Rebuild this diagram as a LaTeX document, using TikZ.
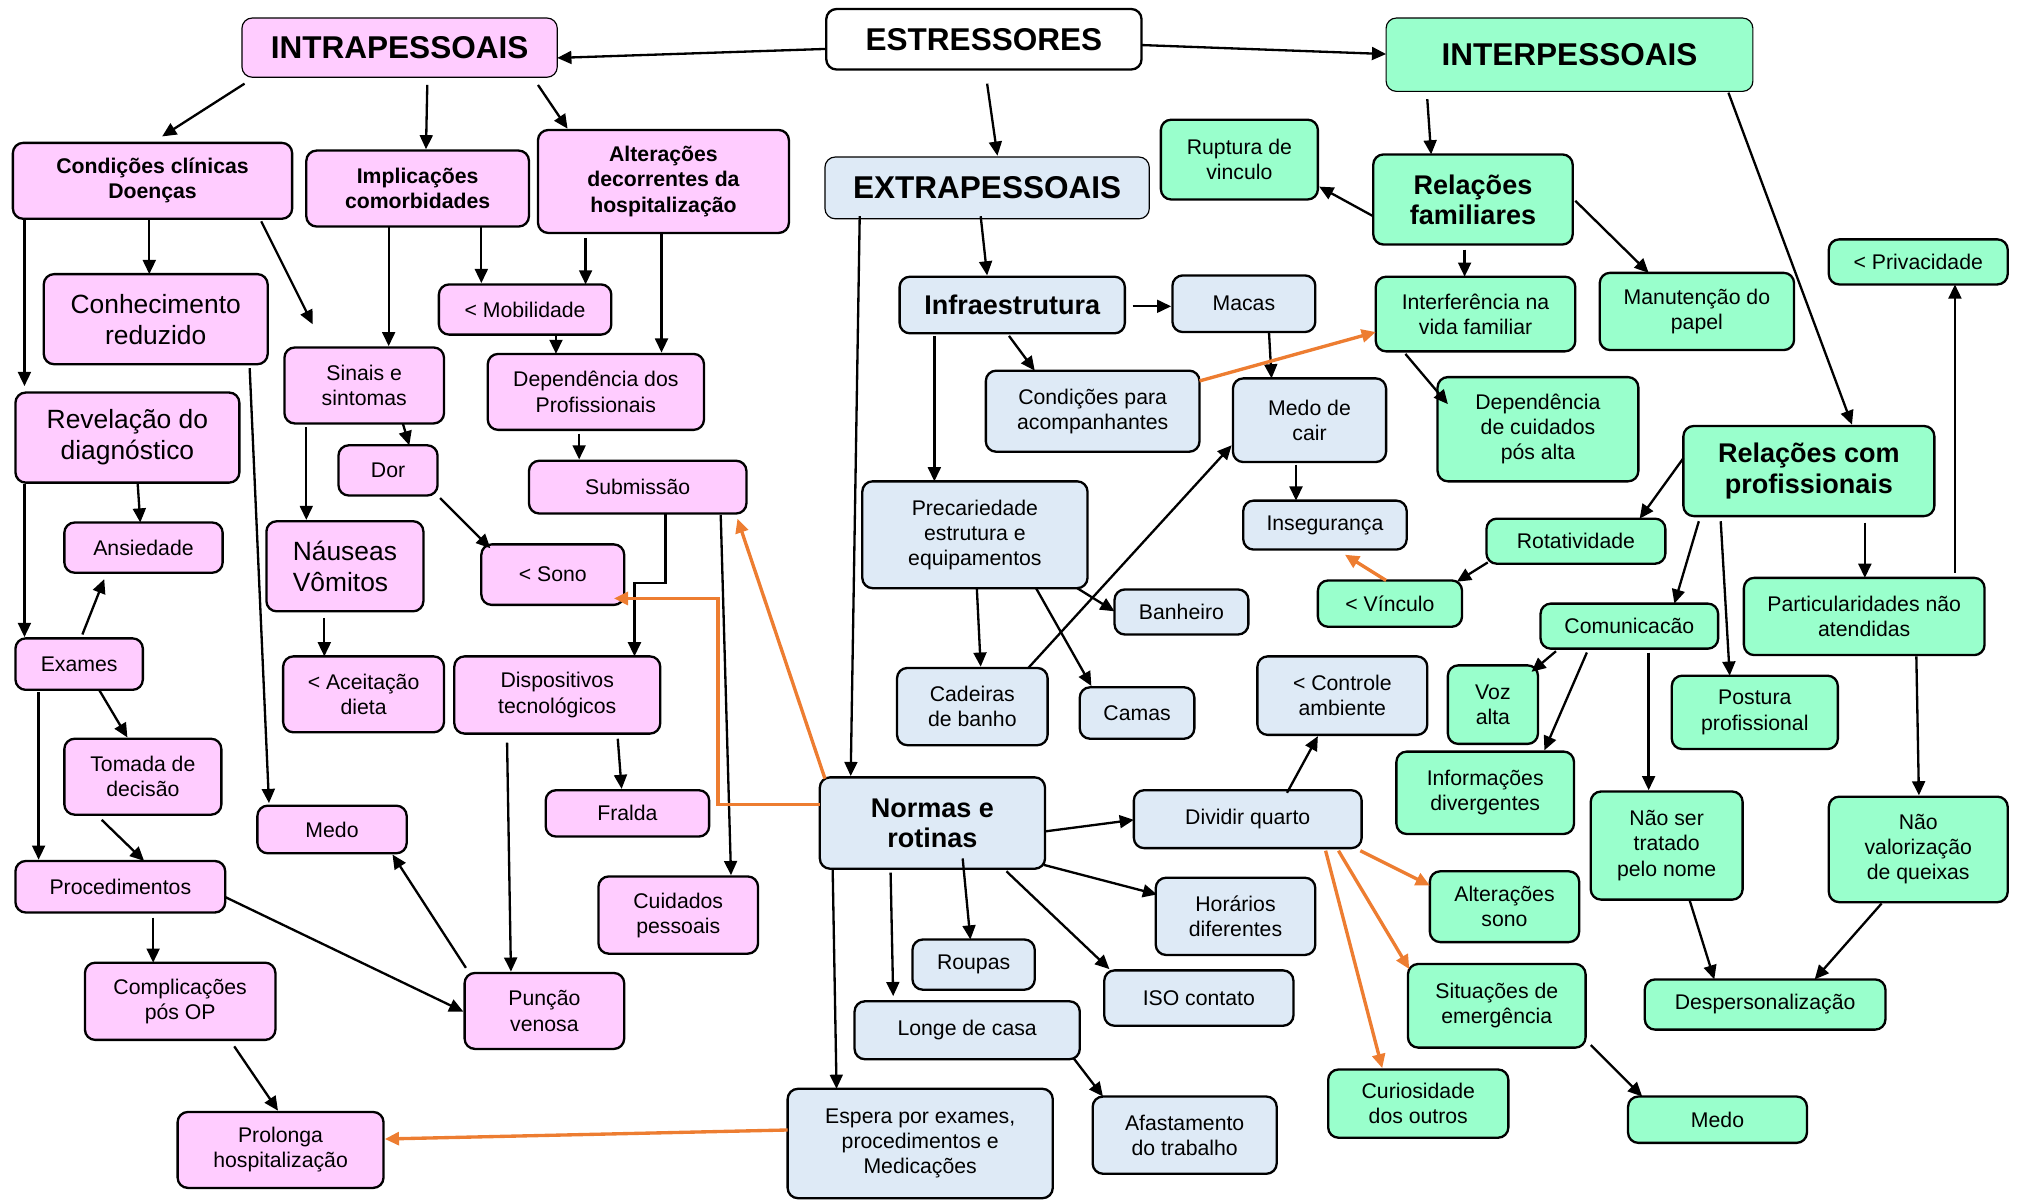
\documentclass[tikz,border=0pt]{standalone}
\usepackage{fontspec}
\setmainfont{Liberation Sans}
\usetikzlibrary{arrows.meta}

\definecolor{pinkfill}{RGB}{255,204,255}
\definecolor{greenfill}{RGB}{153,255,204}
\definecolor{bluefill}{RGB}{222,234,246}
\definecolor{arroworange}{RGB}{237,125,49}

\tikzset{
  box/.style={draw=black, line width=1.8pt, rounded corners=8pt, align=center,
    inner sep=0pt, outer sep=0pt, font=\fontsize{16.5}{19.5}\selectfont},
  pinkbox/.style={box, fill=pinkfill},
  greenbox/.style={box, fill=greenfill},
  bluebox/.style={box, fill=bluefill},
  whitebox/.style={box, fill=white},
  titlefont/.style={font=\bfseries\fontsize{24.5}{28}\selectfont},
  thinframe/.style={line width=0.9pt},
  large/.style={font=\fontsize{20.5}{24}\selectfont},
  heading/.style={font=\bfseries\fontsize{21}{23.5}\selectfont},
  subheading/.style={font=\bfseries\fontsize{16.5}{19.5}\selectfont},
  link/.style={draw=black, line width=1.8pt, -{Triangle[length=11pt,width=10pt]}},
  olink/.style={draw=arroworange, line width=2.6pt, -{Triangle[length=11pt,width=10pt]}},
}

% box from its corners (x1,y1)-(x2,y2); the top-left corner is kept for the connectors
\newcommand\mapnode[7]{%
  \node[#1, minimum width={#5-#3}, minimum height={#6-#4}] (#2)
    at ({(#3+#5)/2},{(#4+#6)/2}) {#7};%
  \expandafter\def\csname mx@#2\endcsname{#3}%
  \expandafter\def\csname my@#2\endcsname{#4}%
}
% connector: style, from node, x, y, to node, x, y (points given relative to each node)
\newcommand\mapconn[7]{%
  \draw[#1] ([shift={(#3-\csname mx@#2\endcsname,#4-\csname my@#2\endcsname)}]#2.north west)
    -- ([shift={(#6-\csname mx@#5\endcsname,#7-\csname my@#5\endcsname)}]#5.north west);%
}

\begin{document}
\begin{tikzpicture}[x=1pt,y=-1pt]
\useasboundingbox (0,0) rectangle (1568,932);

% ---------- top level ----------
\mapnode{pinkbox,titlefont,thinframe}{intra}{188}{14}{433}{60}{INTRAPESSOAIS}
\mapnode{whitebox,titlefont}{estr}{642}{7}{887}{54}{ESTRESSORES}
\mapnode{greenbox,titlefont,thinframe}{inter}{1077}{14}{1362}{71}{INTERPESSOAIS}
\mapnode{bluebox,titlefont,thinframe}{extra}{641}{122}{893}{170}{EXTRAPESSOAIS}

% ---------- intrapessoais ----------
\mapnode{pinkbox,subheading}{cond}{10}{111}{227}{170}{Condições clínicas\\Doenças}
\mapnode{pinkbox,subheading}{impl}{238}{117}{411}{176}{Implicações\\comorbidades}
\mapnode{pinkbox,subheading}{alt}{418}{101}{613}{181}{Alterações\\decorrentes da\\hospitalização}
\mapnode{pinkbox,large}{conh}{34}{213}{208}{283}{Conhecimento\\reduzido}
\mapnode{pinkbox}{mob}{341}{221}{475}{260}{< Mobilidade}
\mapnode{pinkbox}{sinais}{221}{270}{345}{329}{Sinais e\\sintomas}
\mapnode{pinkbox}{dep}{379}{275}{547}{334}{Dependência dos\\Profissionais}
\mapnode{pinkbox,large}{rev}{12}{305}{186}{375}{Revelação do\\diagnóstico}
\mapnode{pinkbox}{dor}{263}{346}{340}{385}{Dor}
\mapnode{pinkbox}{subm}{411}{358}{580}{399}{Submissão}
\mapnode{pinkbox}{ans}{50}{406}{173}{445}{Ansiedade}
\mapnode{pinkbox,large,align=left}{naus}{207}{405}{329}{475}{Náuseas\\Vômitos}
\mapnode{pinkbox}{sono}{374}{423}{485}{470}{< Sono}
\mapnode{pinkbox}{exames}{12}{496}{111}{536}{Exames}
\mapnode{pinkbox}{aceit}{220}{510}{345}{569}{< Aceitação\\dieta}
\mapnode{pinkbox}{disp}{353}{510}{513}{570}{Dispositivos\\tecnológicos}
\mapnode{pinkbox}{tomada}{50}{574}{172}{633}{Tomada de\\decisão}
\mapnode{pinkbox}{fralda}{424}{614}{551}{650}{Fralda}
\mapnode{pinkbox}{medop}{200}{626}{316}{663}{Medo}
\mapnode{pinkbox}{proc}{12}{669}{175}{709}{Procedimentos}
\mapnode{pinkbox}{cuid}{465}{681}{589}{741}{Cuidados\\pessoais}
\mapnode{pinkbox}{compl}{66}{748}{214}{808}{Complicações\\pós OP}
\mapnode{pinkbox}{puncao}{361}{756}{485}{815}{Punção\\venosa}
\mapnode{pinkbox}{prol}{138}{864}{298}{923}{Prolonga\\hospitalização}

% ---------- extrapessoais ----------
\mapnode{bluebox,heading}{infra}{699}{215}{874}{259}{Infraestrutura}
\mapnode{bluebox}{macas}{911}{214}{1022}{258}{Macas}
\mapnode{bluebox}{condac}{766}{288}{932}{351}{Condições para\\acompanhantes}
\mapnode{bluebox}{medoc}{958}{294}{1077}{359}{Medo de\\cair}
\mapnode{bluebox}{prec}{670}{374}{845}{457}{Precariedade\\estrutura e\\equipamentos}
\mapnode{bluebox}{inseg}{966}{389}{1093}{427}{Insegurança}
\mapnode{bluebox}{banh}{866}{458}{970}{493}{Banheiro}
\mapnode{bluebox}{cad}{697}{519}{814}{579}{Cadeiras\\de banho}
\mapnode{bluebox}{camas}{839}{534}{928}{574}{Camas}
\mapnode{bluebox}{contr}{977}{510}{1109}{571}{< Controle\\ambiente}
\mapnode{bluebox,heading}{normas}{637}{604}{812}{675}{Normas e\\rotinas}
\mapnode{bluebox}{div}{881}{614}{1058}{659}{Dividir quarto}
\mapnode{bluebox}{hor}{898}{682}{1022}{742}{Horários\\diferentes}
\mapnode{bluebox}{roupas}{709}{730}{804}{769}{Roupas}
\mapnode{bluebox}{iso}{858}{754}{1005}{797}{ISO contato}
\mapnode{bluebox}{longe}{664}{778}{839}{823}{Longe de casa}
\mapnode{bluebox}{afast}{849}{852}{992}{912}{Afastamento\\do trabalho}
\mapnode{bluebox}{espera}{612}{846}{818}{931}{Espera por exames,\\procedimentos e\\Medicações}

% ---------- interpessoais ----------
\mapnode{greenbox}{rupt}{902}{93}{1024}{155}{Ruptura de\\vinculo}
\mapnode{greenbox,heading}{relfam}{1067}{120}{1222}{190}{Relações\\familiares}
\mapnode{greenbox}{priv}{1421}{186}{1560}{221}{< Privacidade}
\mapnode{greenbox}{interf}{1069}{215}{1224}{273}{Interferência na\\vida familiar}
\mapnode{greenbox}{manut}{1243}{212}{1394}{272}{Manutenção do\\papel}
\mapnode{greenbox}{depc}{1117}{293}{1273}{374}{Dependência\\de cuidados\\pós alta}
\mapnode{greenbox,heading}{relprof}{1308}{331}{1503}{401}{Relações com\\profissionais}
\mapnode{greenbox}{rotat}{1155}{403}{1294}{438}{Rotatividade}
\mapnode{greenbox}{vinc}{1024}{451}{1136}{487}{< Vínculo}
\mapnode{greenbox}{partic}{1355}{449}{1542}{509}{Particularidades não\\atendidas}
\mapnode{greenbox}{comun}{1197}{469}{1335}{504}{Comunicacão}
\mapnode{greenbox}{voz}{1125}{517}{1195}{578}{Voz\\alta}
\mapnode{greenbox}{post}{1299}{525}{1428}{582}{Postura\\profissional}
\mapnode{greenbox}{info}{1085}{584}{1223}{648}{Informações\\divergentes}
\mapnode{greenbox}{naoser}{1236}{615}{1354}{699}{Não ser\\tratado\\pelo nome}
\mapnode{greenbox}{naoval}{1421}{619}{1560}{701}{Não\\valorização\\de queixas}
\mapnode{greenbox}{alts}{1111}{677}{1227}{732}{Alterações\\sono}
\mapnode{greenbox}{sit}{1094}{749}{1232}{814}{Situações de\\emergência}
\mapnode{greenbox}{desp}{1278}{761}{1465}{800}{Despersonalização}
\mapnode{greenbox}{curio}{1032}{831}{1172}{884}{Curiosidade\\dos outros}
\mapnode{greenbox}{medog}{1265}{852}{1404}{888}{Medo}

% ---------- black connectors ----------
\mapconn{link}{estr}{642}{38}{intra}{433}{45}
\mapconn{link}{estr}{887}{35}{inter}{1077}{42}
\mapconn{link}{estr}{767}{65}{extra}{775}{121}
\mapconn{link}{intra}{190}{65}{cond}{126}{106}
\mapconn{link}{intra}{332}{66}{impl}{331}{116}
\mapconn{link}{intra}{418}{66}{alt}{441}{100}
\mapconn{link}{cond}{116}{170}{conh}{116}{213}
\mapconn{link}{cond}{19}{170}{rev}{19}{300}
\mapconn{link}{cond}{203}{172}{sinais}{243}{252}
\mapconn{link}{impl}{302}{176}{sinais}{302}{269}
\mapconn{link}{impl}{374}{176}{mob}{374}{220}
\mapconn{link}{alt}{455}{185}{mob}{455}{221}
\mapconn{link}{alt}{514}{182}{dep}{514}{274}
\mapconn{link}{mob}{432}{260}{dep}{432}{275}
\mapconn{link}{dep}{450}{337}{subm}{450}{357}
\draw[link] ([shift={(106,41)}]subm.north west) -- ++(0,54) -| ([shift={(140,0)}]disp.north west);
\mapconn{link}{sinais}{238}{332}{naus}{238}{404}
\mapconn{link}{sinais}{313}{329}{dor}{318}{346}
\mapconn{link}{dor}{342}{387}{sono}{381}{426}
\mapconn{link}{naus}{252}{480}{aceit}{252}{510}
\mapconn{link}{rev}{107}{376}{ans}{109}{406}
\mapconn{link}{rev}{19}{376}{exames}{19}{495}
\mapconn{link}{exames}{64}{493}{ans}{81}{450}
\mapconn{link}{exames}{77}{536}{tomada}{99}{573}
\mapconn{link}{exames}{30}{538}{proc}{30}{668}
\mapconn{link}{tomada}{79}{637}{proc}{112}{669}
\mapconn{link}{conh}{194}{286}{medop}{209}{624}
\mapconn{link}{proc}{119}{713}{compl}{119}{748}
\mapconn{link}{proc}{175}{697}{puncao}{360}{786}
\mapconn{link}{compl}{182}{813}{prol}{216}{863}
\mapconn{link}{puncao}{362}{752}{medop}{305}{664}
\mapconn{link}{disp}{394}{577}{puncao}{397}{755}
\mapconn{link}{disp}{480}{574}{fralda}{483}{613}
\mapconn{link}{subm}{560}{400}{cuid}{568}{680}
\mapconn{link}{extra}{668}{168}{normas}{661}{603}
\mapconn{link}{extra}{762}{168}{infra}{767}{214}
\mapconn{link}{infra}{880}{238}{macas}{910}{238}
\mapconn{link}{infra}{784}{261}{condac}{804}{288}
\mapconn{link}{infra}{726}{261}{prec}{726}{374}
\mapconn{link}{macas}{986}{258}{medoc}{988}{294}
\mapconn{link}{medoc}{1007}{361}{inseg}{1007}{389}
\mapconn{link}{prec}{759}{457}{cad}{762}{518}
\mapconn{link}{prec}{837}{457}{banh}{866}{475}
\mapconn{link}{prec}{805}{457}{camas}{848}{533}
\mapconn{link}{cad}{799}{519}{medoc}{957}{346}
\mapconn{link}{normas}{812}{646}{div}{881}{637}
\mapconn{link}{normas}{811}{672}{hor}{899}{695}
\mapconn{link}{normas}{782}{677}{iso}{862}{753}
\mapconn{link}{normas}{748}{667}{roupas}{754}{730}
\mapconn{link}{normas}{692}{678}{longe}{694}{774}
\mapconn{link}{normas}{647}{676}{espera}{650}{846}
\mapconn{link}{longe}{834}{822}{afast}{857}{852}
\mapconn{link}{div}{1000}{616}{contr}{1024}{572}
\mapconn{link}{inter}{1109}{77}{relfam}{1112}{120}
\mapconn{link}{inter}{1343}{72}{relprof}{1439}{330}
\mapconn{link}{relfam}{1067}{168}{rupt}{1025}{145}
\mapconn{link}{relfam}{1138}{194}{interf}{1138}{215}
\mapconn{link}{relfam}{1224}{156}{manut}{1281}{212}
\mapconn{link}{interf}{1092}{275}{depc}{1125}{314}
\mapconn{link}{relprof}{1308}{356}{rotat}{1274}{403}
\mapconn{link}{relprof}{1320}{405}{comun}{1301}{469}
\mapconn{link}{relprof}{1337}{405}{post}{1344}{525}
\mapconn{link}{relprof}{1449}{406}{partic}{1449}{449}
\mapconn{link}{partic}{1519}{445}{priv}{1519}{221}
\mapconn{link}{partic}{1489}{510}{naoval}{1491}{618}
\mapconn{link}{rotat}{1156}{437}{vinc}{1132}{452}
\mapconn{link}{comun}{1209}{506}{voz}{1190}{522}
\mapconn{link}{comun}{1233}{507}{info}{1200}{583}
\mapconn{link}{comun}{1281}{507}{naoser}{1281}{614}
\mapconn{link}{naoser}{1313}{700}{desp}{1332}{761}
\mapconn{link}{naoval}{1462}{702}{desp}{1410}{761}
\mapconn{link}{sit}{1236}{812}{medog}{1276}{852}

% ---------- orange connectors ----------
\mapconn{olink}{normas}{641}{605}{subm}{573}{403}
\draw[olink] ([shift={(0,21)}]normas.north west) -- ++(-79,0) |- ([shift={(103,42)}]sono.north west);
\mapconn{olink}{condac}{932}{296}{interf}{1069}{258}
\mapconn{olink}{vinc}{1077}{451}{inseg}{1045}{431}
\mapconn{olink}{div}{1057}{661}{alts}{1111}{688}
\mapconn{olink}{div}{1040}{661}{sit}{1095}{753}
\mapconn{olink}{div}{1030}{661}{curio}{1074}{830}
\mapconn{olink}{espera}{612}{878}{prol}{299}{885}
\end{tikzpicture}
\end{document}
